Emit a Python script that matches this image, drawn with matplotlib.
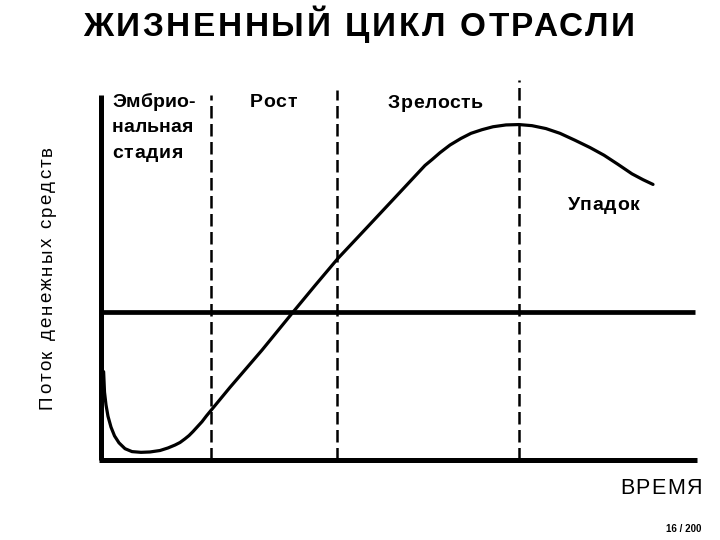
import matplotlib.pyplot as plt

plt.rcParams['font.family'] = ['Liberation Sans', 'DejaVu Sans']

# time (arbitrary units) and cash flow
time = [0.044, 0.059, 0.084, 0.117, 0.168, 0.227, 0.302, 0.403, 0.520,
        0.671, 0.822, 0.990, 1.124, 1.242, 1.326, 1.409, 1.477, 1.544,
        1.611, 1.695, 1.770, 1.846, 2.164, 2.701, 3.221, 3.591, 3.968,
        4.480, 4.950, 5.436, 5.554, 5.688, 5.856, 6.040, 6.208, 6.393,
        6.577, 6.795, 7.013, 7.231, 7.466, 7.701, 7.953, 8.205, 8.440,
        8.674, 8.909, 9.094, 9.262]
flow = [-1.63, -2.19, -2.54, -2.85, -3.15, -3.39, -3.58, -3.74, -3.82,
        -3.84, -3.83, -3.79, -3.72, -3.64, -3.57, -3.47, -3.38, -3.27,
        -3.15, -3.00, -2.84, -2.69, -2.06, -1.04, 0.00, 0.73, 1.46,
        2.35, 3.17, 4.02, 4.18, 4.37, 4.58, 4.76, 4.90, 5.00,
        5.08, 5.13, 5.14, 5.11, 5.03, 4.90, 4.71, 4.51, 4.30,
        4.05, 3.79, 3.63, 3.50]

stage_bounds = [1.846, 3.968, 7.013]
stage_tops = [5.95, 6.09, 6.36]
stage_names = ['Эмбрио-\nнальная\nстадия', 'Рост', 'Зрелость', 'Упадок']

title = 'ЖИЗНЕННЫЙ ЦИКЛ ОТРАСЛИ'
ylabel = 'Поток денежных средств'
xlabel = 'ВРЕМЯ'
page = '16 / 200'

W, H = 720, 540
fig = plt.figure(figsize=(W / 100, H / 100), dpi=100)
renderer = fig.canvas.get_renderer()


def text_width(s, **kw):
    t = fig.text(0, 0, s, **kw)
    w = t.get_window_extent(renderer).width
    t.remove()
    return w


def spaced_text(x, y, s, width, rotation=0, **kw):
    """Draw s from pixel (x, y) (baseline, from top left), spread out to width px."""
    extra = (width - text_width(s, **kw)) / max(len(s) - 1, 1)
    for i, ch in enumerate(s):
        if ch == ' ':
            continue
        off = text_width(s[:i + 1], **kw) - text_width(ch, **kw) + i * extra
        if rotation:
            px, py = x, y - off
        else:
            px, py = x + off, y
        fig.text(px / W, 1 - py / H, ch, rotation=rotation, rotation_mode='anchor',
                 ha='left', va='baseline', **kw)


ax = fig.add_axes([101 / W, 80 / H, 596 / W, 365 / H])
ax.set_xlim(0, 10)
ax.set_ylim(-4.05, 5.95)
ax.axis('off')

# axes and the zero cash flow line
ax.plot([0, 0], [-4.05, 5.95], color='black', lw=3.6, solid_capstyle='butt', clip_on=False)
ax.plot([-0.03, 10], [-4.05, -4.05], color='black', lw=3.6, solid_capstyle='butt', clip_on=False)
ax.plot([-0.02, 9.97], [0, 0], color='black', lw=3.4, solid_capstyle='butt', clip_on=False)

for x, top in zip(stage_bounds, stage_tops):
    ax.plot([x, x], [-4.05, top], color='black', lw=1.8, ls=(0, (5, 2.2)), clip_on=False)

ax.plot(time, flow, color='black', lw=2.3, clip_on=False,
        solid_capstyle='round', solid_joinstyle='round')

# stage labels: left x, first baseline, target width of each line
label_pos = [(112, 107), (250, 107), (388, 108), (568, 210)]
label_widths = [[83, 81, 71], [47], [95], [71]]
bold = dict(fontsize=14, fontweight='bold')
for name, (x, y), widths in zip(stage_names, label_pos, label_widths):
    for k, (line, w) in enumerate(zip(name.split('\n'), widths)):
        spaced_text(x, y + 25.5 * k, line, w, **bold)

spaced_text(83, 36, title, 552, fontsize=24, fontweight='bold')
spaced_text(51.7, 409, ylabel, 263, rotation=90, fontsize=13.5)
spaced_text(620, 494.3, xlabel, 82, fontsize=15.5)
fig.text(666 / W, 1 - 532 / H, page, fontsize=7, fontweight='bold',
         ha='left', va='baseline')

fig.savefig('out.png', dpi=100)
